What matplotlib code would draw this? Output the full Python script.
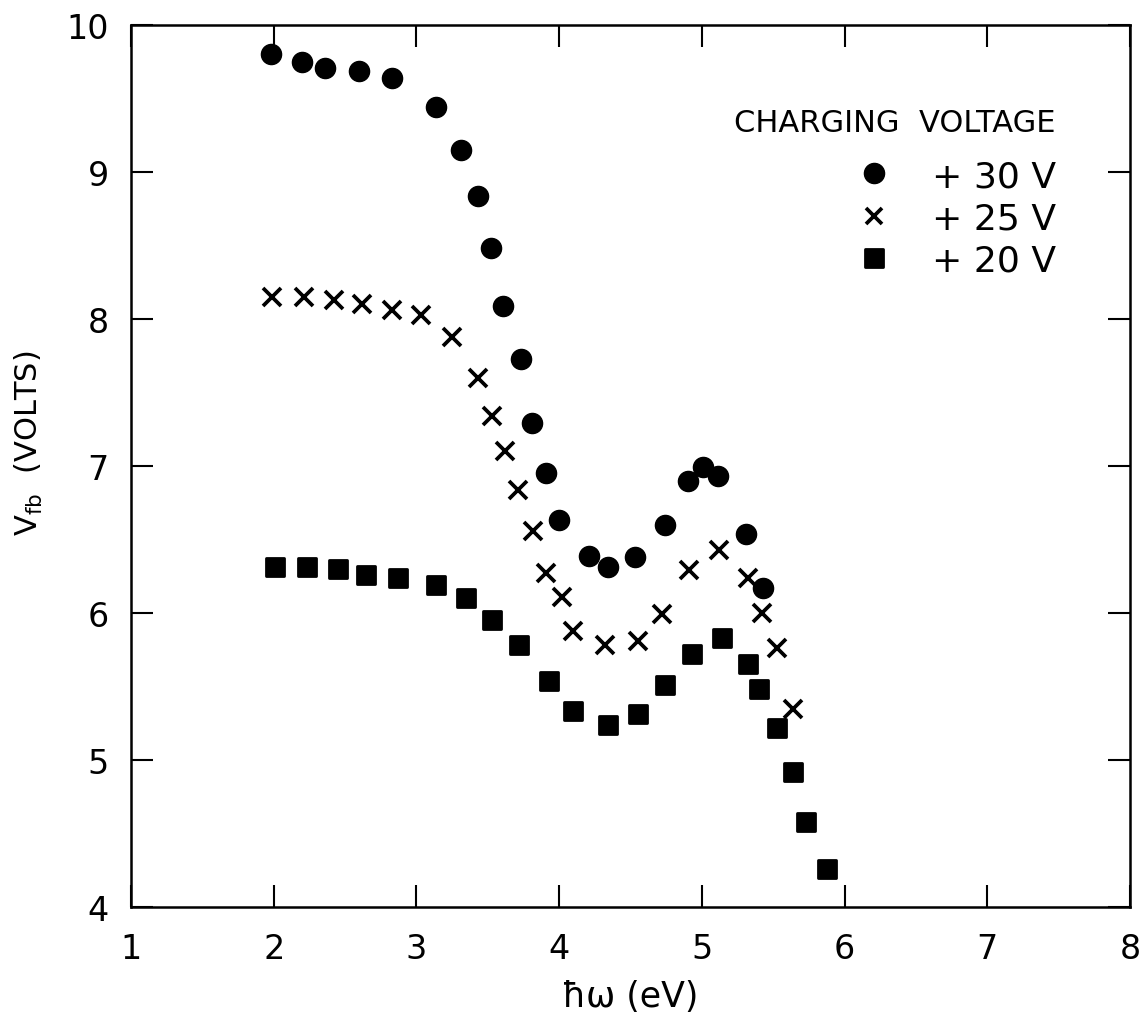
import matplotlib
matplotlib.use("Agg")
import matplotlib.pyplot as plt
from matplotlib.lines import Line2D
from matplotlib.markers import MarkerStyle

# photon energy (eV) and flat-band voltage (V) for each charging voltage
x30 = [1.98, 2.20, 2.36, 2.60, 2.83, 3.14, 3.31, 3.43, 3.52, 3.61, 3.73, 3.81,
       3.91, 4.00, 4.21, 4.34, 4.53, 4.74, 4.90, 5.01, 5.11, 5.31, 5.43]
y30 = [9.80, 9.75, 9.71, 9.69, 9.64, 9.44, 9.15, 8.84, 8.48, 8.09, 7.73, 7.29,
       6.95, 6.63, 6.39, 6.31, 6.38, 6.60, 6.90, 6.99, 6.93, 6.54, 6.17]

x25 = [1.99, 2.21, 2.42, 2.62, 2.83, 3.03, 3.25, 3.43, 3.53, 3.62, 3.71, 3.82,
       3.91, 4.02, 4.10, 4.32, 4.55, 4.72, 4.91, 5.12, 5.32, 5.42, 5.53, 5.64]
y25 = [8.15, 8.15, 8.13, 8.10, 8.06, 8.03, 7.88, 7.60, 7.34, 7.10, 6.84, 6.56,
       6.27, 6.11, 5.88, 5.78, 5.81, 5.99, 6.29, 6.43, 6.24, 6.00, 5.76, 5.35]

x20 = [2.01, 2.23, 2.45, 2.65, 2.87, 3.14, 3.35, 3.53, 3.72, 3.93, 4.10, 4.34,
       4.55, 4.74, 4.93, 5.14, 5.32, 5.40, 5.53, 5.64, 5.73, 5.88]
y20 = [6.31, 6.31, 6.30, 6.26, 6.24, 6.19, 6.10, 5.95, 5.78, 5.54, 5.33, 5.24,
       5.31, 5.51, 5.72, 5.83, 5.65, 5.48, 5.22, 4.92, 4.58, 4.26]

labels = ["+ 30 V", "+ 25 V", "+ 20 V"]
legend_title = "CHARGING  VOLTAGE"
xticks = [1, 2, 3, 4, 5, 6, 7, 8]
yticks = [4, 5, 6, 7, 8, 9, 10]

plt.rcParams['font.family'] = ['DejaVu Sans']

fig = plt.figure(figsize=(11.43, 10.2), dpi=100)
ax = fig.add_axes([0.1146, 0.1098, 0.874, 0.8647])

sq = MarkerStyle('s', joinstyle='round')
circ_kw = dict(marker='o', color='black', markersize=14.5, linestyle='none')
cross_kw = dict(marker='x', color='black', markersize=12.5, markeredgewidth=2.7, linestyle='none')
sq_kw = dict(marker=sq, color='black', markersize=12.4, markeredgewidth=2.0, linestyle='none')

ax.plot(x30, y30, **circ_kw)
ax.plot(x25, y25, **cross_kw)
ax.plot(x20, y20, **sq_kw)

ax.set_xlim(1, 8)
ax.set_ylim(4, 10)
ax.set_xticks(xticks)
ax.set_yticks(yticks)
ax.set_xticklabels([str(t) for t in xticks], fontsize=24)
ax.set_yticklabels([str(t) for t in yticks], fontsize=24)
ax.tick_params(direction='in', length=16, width=1.5, top=True, right=True)
ax.tick_params(axis='x', pad=18)
ax.tick_params(axis='y', pad=16)
for s in ax.spines.values():
    s.set_linewidth(1.8)

ax.set_xlabel('ħω (eV)', fontsize=25, labelpad=10)
ax.set_ylabel(r'$\mathregular{V_{fb}}$  (VOLTS)', fontsize=22)
ax.yaxis.set_label_coords(-0.086, 0.527)

# Legend: title as separate text, entries below it
ax.text(0.925, 0.890, legend_title, transform=ax.transAxes, fontsize=22,
        ha='right', va='center')
handles = [Line2D([], [], **circ_kw),
           Line2D([], [], **dict(cross_kw, markersize=11.5)),
           Line2D([], [], **sq_kw)]
ax.legend(handles, labels, loc='upper right', bbox_to_anchor=(0.926, 0.848),
          frameon=False, fontsize=26, handlelength=1.0, handletextpad=1.1,
          labelspacing=0.23, borderaxespad=0, borderpad=0)

fig.savefig('out.png', dpi=100)
